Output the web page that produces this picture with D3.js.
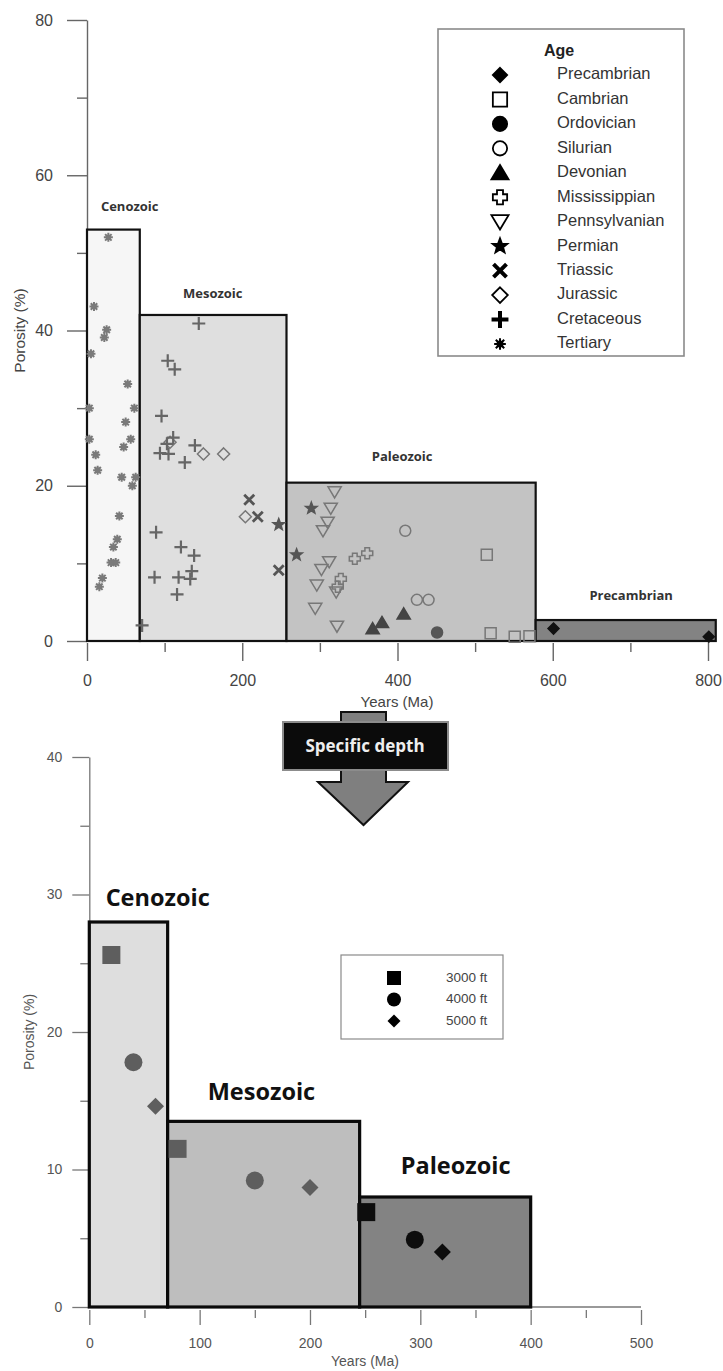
<!DOCTYPE html>
<html>
<head>
<meta charset="utf-8">
<script src="https://cdn.jsdelivr.net/npm/d3@7"></script>
<style>
    body { margin: 0; background: #fff; }
    .tick text { font-family: "Liberation Sans", Arial, sans-serif; fill: #444; }
    .era-label { font-family: "Open Sans", "Noto Sans", sans-serif; font-weight: bold; }
</style>
</head>
<body>
<div id="chart"></div>
<script>

// ---------- top chart data (Ma, porosity %) ----------
const topEraNames    = ["Cenozoic", "Mesozoic", "Paleozoic", "Precambrian"];
const topEraStart    = [0, 68, 257, 578];
const topEraEnd      = [68, 257, 578, 810];
const topEraPorosity = [53, 42, 20.4, 2.7];
const topEraLabelAt  = [[55, 55.9], [162, 44.6], [406, 23.7], [701, 5.7]];

const topXTicks = [0, 200, 400, 600, 800];
const topXMinor = [100, 300, 500, 700];
const topYTicks = [0, 20, 40, 60, 80];
const topYMinor = [10, 30, 50, 70];

const ageNames = ["Precambrian", "Cambrian", "Ordovician", "Silurian", "Devonian", "Mississippian",
    "Pennsylvanian", "Permian", "Triassic", "Jurassic", "Cretaceous", "Tertiary"];

const precambrian = [[601, 1.6], [801, 0.55]];
const cambrian = [[515, 11.1], [520, 1.0], [551, 0.55], [570, 0.6]];
const ordovician = [[451, 1.1]];
const silurian = [[410, 14.2], [425, 5.3], [440, 5.3]];
const devonian = [[368, 1.6], [380, 2.4], [408, 3.5]];
const mississippian = [[323, 7.0], [327, 8.0], [345, 10.6], [361, 11.3]];
const pennsylvanian = [[319, 19.2], [314, 17.1], [310, 15.3], [304, 14.2], [312, 10.2], [302, 9.2],
    [296, 7.2], [321, 6.3], [294, 4.2], [322, 1.9]];
const permian = [[247, 15.0], [270, 11.1], [289, 17.1]];
const triassic = [[209, 18.2], [220, 16.0], [247, 9.1]];
const jurassic = [[107, 25.6], [150, 24.1], [176, 24.1], [204, 16.0]];
const cretaceous = [[71, 2.0], [87, 8.2], [94, 24.2], [96, 29.0], [89, 14.0], [104, 36.1], [113, 35.0],
    [103, 25.4], [105, 24.1], [111, 26.2], [126, 23.0], [139, 25.2], [144, 40.9], [121, 12.1],
    [138, 11.0], [118, 8.2], [135, 9.0], [133, 8.0], [116, 6.0]];
const tertiary = [[27.5, 52.0], [9, 43.1], [25.3, 40.1], [22.3, 39.1], [5.1, 37.0], [52.4, 33.1],
    [3, 30.0], [61, 30.0], [49.8, 28.2], [3, 26.0], [56.3, 26.0], [47.2, 25.0], [11.2, 24.0],
    [13.7, 22.0], [44.7, 21.1], [62.7, 21.1], [58.4, 20.0], [41.7, 16.1], [39, 13.1], [34, 12.1],
    [31, 10.1], [37, 10.1], [19.8, 8.1], [15.9, 7.0]];

const agePoints = [precambrian, cambrian, ordovician, silurian, devonian, mississippian,
    pennsylvanian, permian, triassic, jurassic, cretaceous, tertiary];

// ---------- bottom chart data ----------
const botEraNames    = ["Cenozoic", "Mesozoic", "Paleozoic"];
const botEraStart    = [0, 71, 245];
const botEraEnd      = [71, 245, 400];
const botEraPorosity = [28, 13.5, 8];
const botEraLabelAt  = [[62, 29.6], [156, 15.5], [332, 10.1]];

const botXTicks = [0, 100, 200, 300, 400, 500];
const botXMinor = [50, 150, 250, 350, 450];
const botYTicks = [0, 10, 20, 30, 40];
const botYMinor = [5, 15, 25, 35];

const depthNames = ["3000 ft", "4000 ft", "5000 ft"];
const depth3000 = [[20, 25.6], [80, 11.5], [251, 6.9]];
const depth4000 = [[40, 17.8], [150, 9.2], [295, 4.9]];
const depth5000 = [[60, 14.6], [200, 8.7], [320, 4.0]];
const depthPoints = [depth3000, depth4000, depth5000];

// ---------- styles ----------
const topEraFill = ["#f6f6f6", "#dfdfdf", "#c3c3c3", "#838383"];
const botEraFill = ["#dedede", "#bebebe", "#838383"];
const botMarkColor = ["#5e5e5e", "#5e5e5e", "#0d0d0d"];

// shape, size (half-width), filled?, colour on chart
const ageStyle = {
    Precambrian:   {shape: "diamond",   r: 5.5, fill: true,  color: "#111"},
    Cambrian:      {shape: "square",    r: 5.5, fill: false, color: "#777"},
    Ordovician:    {shape: "circle",    r: 5.5, fill: true,  color: "#555"},
    Silurian:      {shape: "circle",    r: 5.5, fill: false, color: "#777"},
    Devonian:      {shape: "triUp",     r: 6,   fill: true,  color: "#444"},
    Mississippian: {shape: "crossOpen", r: 5.5, fill: false, color: "#777"},
    Pennsylvanian: {shape: "triDown",   r: 6,   fill: false, color: "#777"},
    Permian:       {shape: "star",      r: 6,   fill: true,  color: "#555"},
    Triassic:      {shape: "times",     r: 5,   fill: false, color: "#555"},
    Jurassic:      {shape: "diamond",   r: 6,   fill: false, color: "#777"},
    Cretaceous:    {shape: "plus",      r: 6.5, fill: false, color: "#666"},
    Tertiary:      {shape: "asterisk",  r: 4.5, fill: true,  color: "#7a7a7a"}
};
const depthShape = ["square", "circle", "diamond"];

function shapePath(shape, r) {
    let w = r * 0.42;
    switch (shape) {
        case "diamond": return `M0,${-r}L${r},0L0,${r}L${-r},0Z`;
        case "square": return `M${-r},${-r}h${2 * r}v${2 * r}h${-2 * r}Z`;
        case "circle": return `M${r},0A${r},${r},0,1,1,${-r},0A${r},${r},0,1,1,${r},0Z`;
        case "triUp": return `M0,${-r}L${r * 1.1},${r * 0.85}L${-r * 1.1},${r * 0.85}Z`;
        case "triDown": return `M0,${r}L${r * 1.1},${-r * 0.85}L${-r * 1.1},${-r * 0.85}Z`;
        case "crossOpen": return `M${-w},${-r}H${w}V${-w}H${r}V${w}H${w}V${r}H${-w}V${w}H${-r}V${-w}H${-w}Z`;
        case "times": return `M${-r},${-r}L${r},${r}M${-r},${r}L${r},${-r}`;
        case "plus": return `M${-r},0H${r}M0,${-r}V${r}`;
        case "asterisk": {
            let d = r * 0.72;
            return `M${-r},0H${r}M0,${-r}V${r}M${-d},${-d}L${d},${d}M${-d},${d}L${d},${-d}`;
        }
        case "star": {
            let pts = [];
            for (let i = 0; i < 10; i++) {
                let a = -Math.PI / 2 + i * Math.PI / 5;
                let rr = i % 2 === 0 ? r : r * 0.42;
                pts.push([rr * Math.cos(a), rr * Math.sin(a)]);
            }
            return "M" + pts.map(p => p[0].toFixed(2) + "," + p[1].toFixed(2)).join("L") + "Z";
        }
    }
}

const strokeShapes = ["times", "plus", "asterisk"];

function drawMark(g, shape, r, color, filled, sw, lineW) {
    if (strokeShapes.includes(shape)) {
        g.append("path").attr("d", shapePath(shape, r))
            .attr("fill", "none").attr("stroke", color)
            .attr("stroke-width", shape === "asterisk" ? Math.min(lineW, 2) : lineW);
        if (shape === "asterisk") {
            g.append("path").attr("d", shapePath("square", r * 0.55)).attr("fill", color);
        }
    } else {
        g.append("path").attr("d", shapePath(shape, r))
            .attr("fill", filled ? color : "none")
            .attr("stroke", color).attr("stroke-width", sw);
    }
}

const svg = d3.select("#chart").append("svg")
    .attr("width", 723)
    .attr("height", 1371)
    .style("font-family", "'Liberation Sans', Arial, sans-serif");

svg.append("rect").attr("width", 723).attr("height", 1371).attr("fill", "#fff");

/* * * * * * * * top chart * * * * * * * */

let xTop = d3.scaleLinear().domain([0, 800]).range([87, 708]);
let yTop = d3.scaleLinear().domain([0, 80]).range([641, 20]);

let topChart = svg.append("g").attr("class", "top-chart");

// y axis
topChart.append("g")
    .attr("transform", `translate(${xTop(0)},0)`)
    .call(d3.axisLeft(yTop).tickValues(topYTicks).tickSize(20).tickSizeOuter(0).tickPadding(14))
    .call(g => g.selectAll("text").style("font-size", "16px"))
    .call(g => g.selectAll("line, path").attr("stroke", "#666").attr("stroke-width", 1.4));

topChart.append("g")
    .attr("transform", `translate(${xTop(0)},0)`)
    .call(d3.axisLeft(yTop).tickValues(topYMinor).tickSize(10).tickFormat(""))
    .call(g => g.select(".domain").remove())
    .call(g => g.selectAll("line").attr("stroke", "#666").attr("stroke-width", 1.4));

// x axis
topChart.append("line")
    .attr("x1", xTop(0)).attr("x2", xTop(800))
    .attr("y1", yTop(0)).attr("y2", yTop(0))
    .attr("stroke", "#666").attr("stroke-width", 1.4);

topChart.append("g")
    .attr("transform", `translate(0,${yTop(0) + 2})`)
    .call(d3.axisBottom(xTop).tickValues(topXTicks).tickSize(18).tickPadding(14))
    .call(g => g.select(".domain").remove())
    .call(g => g.selectAll("text").style("font-size", "16px"))
    .call(g => g.selectAll("line").attr("stroke", "#666").attr("stroke-width", 1.4));

topChart.append("g")
    .attr("transform", `translate(0,${yTop(0) + 2})`)
    .call(d3.axisBottom(xTop).tickValues(topXMinor).tickSize(9).tickFormat(""))
    .call(g => g.select(".domain").remove())
    .call(g => g.selectAll("line").attr("stroke", "#666").attr("stroke-width", 1.4));

topChart.append("text")
    .attr("x", 397).attr("y", 703)
    .attr("text-anchor", "middle").attr("dominant-baseline", "middle")
    .attr("fill", "#444").style("font-size", "15px")
    .text("Years (Ma)");

topChart.append("text")
    .attr("transform", `translate(21,${(yTop(0) + yTop(80)) / 2}) rotate(-90)`)
    .attr("text-anchor", "middle").attr("dominant-baseline", "middle")
    .attr("fill", "#444").style("font-size", "15.5px")
    .text("Porosity (%)");

// era boxes
topChart.selectAll(".era-box")
    .data(topEraNames)
    .enter().append("rect")
    .attr("class", "era-box")
    .attr("x", (d, i) => xTop(topEraStart[i]))
    .attr("y", (d, i) => yTop(topEraPorosity[i]))
    .attr("width", (d, i) => xTop(topEraEnd[i]) - xTop(topEraStart[i]))
    .attr("height", (d, i) => yTop(0) - yTop(topEraPorosity[i]))
    .attr("fill", (d, i) => topEraFill[i])
    .attr("stroke", "#111").attr("stroke-width", 2.2);

topChart.selectAll(".era-label")
    .data(topEraNames)
    .enter().append("text")
    .attr("class", "era-label")
    .attr("x", (d, i) => xTop(topEraLabelAt[i][0]))
    .attr("y", (d, i) => yTop(topEraLabelAt[i][1]))
    .attr("text-anchor", "middle").attr("dominant-baseline", "middle")
    .attr("fill", "#333").style("font-size", "13px")
    .text(d => d);

// points
ageNames.forEach((name, i) => {
    let st = ageStyle[name];
    agePoints[i].forEach(p => {
        let g = topChart.append("g").attr("transform", `translate(${xTop(p[0])},${yTop(p[1])})`);
        drawMark(g, st.shape, st.r, st.color, st.fill, 1.5, st.shape === "times" ? 2.8 : 2.2);
    });
});

// legend
let legTop = topChart.append("g").attr("class", "legend");
legTop.append("rect")
    .attr("x", 438).attr("y", 29).attr("width", 246).attr("height", 327)
    .attr("fill", "#fff").attr("stroke", "#8a8a8a").attr("stroke-width", 1.6);
legTop.append("text")
    .attr("x", 544).attr("y", 52)
    .attr("dominant-baseline", "middle")
    .attr("fill", "#222").style("font-size", "16px").style("font-weight", "bold")
    .text("Age");

let legRow = d3.scaleLinear().domain([0, ageNames.length - 1]).range([75, 344]);
ageNames.forEach((name, i) => {
    let st = ageStyle[name];
    let g = legTop.append("g").attr("transform", `translate(500,${legRow(i)})`);
    drawMark(g, st.shape, st.r * 1.3, "#000", st.fill, 1.8, 4);
    legTop.append("text")
        .attr("x", 557).attr("y", legRow(i))
        .attr("dominant-baseline", "middle")
        .attr("fill", "#333").style("font-size", "16.5px")
        .text(name);
});

/* * * * * * * * arrow * * * * * * * */

let arrow = svg.append("g").attr("class", "arrow");
arrow.append("path")
    .attr("d", "M341,712H386V782H408L363.5,825L318,782H341Z")
    .attr("fill", "#7f7f7f").attr("stroke", "#111").attr("stroke-width", 2);
arrow.append("rect")
    .attr("x", 283).attr("y", 722).attr("width", 165).attr("height", 48)
    .attr("fill", "#0b0b0b").attr("stroke", "#8c8c8c").attr("stroke-width", 2);
arrow.append("text")
    .attr("x", 365).attr("y", 747)
    .attr("text-anchor", "middle").attr("dominant-baseline", "middle")
    .attr("class", "era-label")
    .attr("fill", "#eeeeee").style("font-size", "17px")
    .text("Specific depth");

/* * * * * * * * bottom chart * * * * * * * */

let xBot = d3.scaleLinear().domain([0, 500]).range([89.3, 641]);
let yBot = d3.scaleLinear().domain([0, 40]).range([1307, 757]);

let bot = svg.append("g").attr("class", "bottom-chart");

bot.append("g")
    .attr("transform", `translate(${xBot(0)},0)`)
    .call(d3.axisLeft(yBot).tickValues(botYTicks).tickSize(17).tickSizeOuter(0).tickPadding(10))
    .call(g => g.selectAll("text").style("font-size", "14px").style("fill", "#555"))
    .call(g => g.selectAll("line, path").attr("stroke", "#777").attr("stroke-width", 1.3));

bot.append("g")
    .attr("transform", `translate(${xBot(0)},0)`)
    .call(d3.axisLeft(yBot).tickValues(botYMinor).tickSize(9).tickFormat(""))
    .call(g => g.select(".domain").remove())
    .call(g => g.selectAll("line").attr("stroke", "#777").attr("stroke-width", 1.3));

bot.append("line")
    .attr("x1", xBot(0)).attr("x2", xBot(500))
    .attr("y1", yBot(0)).attr("y2", yBot(0))
    .attr("stroke", "#777").attr("stroke-width", 1.3);

bot.append("g")
    .attr("transform", `translate(0,${yBot(0) + 3})`)
    .call(d3.axisBottom(xBot).tickValues(botXTicks).tickSize(15).tickPadding(13))
    .call(g => g.select(".domain").remove())
    .call(g => g.selectAll("text").style("font-size", "14px").style("fill", "#555"))
    .call(g => g.selectAll("line").attr("stroke", "#777").attr("stroke-width", 1.3));

bot.append("g")
    .attr("transform", `translate(0,${yBot(0) + 3})`)
    .call(d3.axisBottom(xBot).tickValues(botXMinor).tickSize(8).tickFormat(""))
    .call(g => g.select(".domain").remove())
    .call(g => g.selectAll("line").attr("stroke", "#777").attr("stroke-width", 1.3));

bot.append("text")
    .attr("x", 365).attr("y", 1362)
    .attr("text-anchor", "middle").attr("dominant-baseline", "middle")
    .attr("fill", "#555").style("font-size", "14px")
    .text("Years (Ma)");

bot.append("text")
    .attr("transform", `translate(30.5,${(yBot(0) + yBot(40)) / 2}) rotate(-90)`)
    .attr("text-anchor", "middle").attr("dominant-baseline", "middle")
    .attr("fill", "#555").style("font-size", "14px")
    .text("Porosity (%)");

bot.selectAll(".era-box")
    .data(botEraNames)
    .enter().append("rect")
    .attr("class", "era-box")
    .attr("x", (d, i) => xBot(botEraStart[i]))
    .attr("y", (d, i) => yBot(botEraPorosity[i]))
    .attr("width", (d, i) => xBot(botEraEnd[i]) - xBot(botEraStart[i]))
    .attr("height", (d, i) => yBot(0) - yBot(botEraPorosity[i]))
    .attr("fill", (d, i) => botEraFill[i])
    .attr("stroke", "#0a0a0a").attr("stroke-width", 3.2);

bot.selectAll(".era-label")
    .data(botEraNames)
    .enter().append("text")
    .attr("class", "era-label")
    .attr("x", (d, i) => xBot(botEraLabelAt[i][0]))
    .attr("y", (d, i) => yBot(botEraLabelAt[i][1]))
    .attr("text-anchor", "middle").attr("dominant-baseline", "middle")
    .attr("fill", "#111").style("font-size", "23.5px")
    .text(d => d);

// colour a mark by the era box it sits in
function botColor(x) {
    let idx = botEraEnd.findIndex(e => x < e);
    return botMarkColor[idx < 0 ? botMarkColor.length - 1 : idx];
}

depthPoints.forEach((pts, i) => {
    let r = depthShape[i] === "diamond" ? 8.5 : 9;
    pts.forEach(p => {
        bot.append("path")
            .attr("transform", `translate(${xBot(p[0])},${yBot(p[1])})`)
            .attr("d", shapePath(depthShape[i], r))
            .attr("fill", botColor(p[0]));
    });
});

// legend
let legBot = bot.append("g").attr("class", "legend");
legBot.append("rect")
    .attr("x", 341).attr("y", 955).attr("width", 162).attr("height", 84)
    .attr("fill", "#fff").attr("stroke", "#8a8a8a").attr("stroke-width", 1.2);

let legBotRow = d3.scaleLinear().domain([0, depthNames.length - 1]).range([978, 1021]);
depthNames.forEach((name, i) => {
    legBot.append("path")
        .attr("transform", `translate(394,${legBotRow(i)})`)
        .attr("d", shapePath(depthShape[i], depthShape[i] === "diamond" ? 6.5 : 7))
        .attr("fill", "#000");
    legBot.append("text")
        .attr("x", 446).attr("y", legBotRow(i))
        .attr("dominant-baseline", "middle")
        .attr("fill", "#444").style("font-size", "13.5px")
        .text(name);
});

</script>
</body>
</html>
